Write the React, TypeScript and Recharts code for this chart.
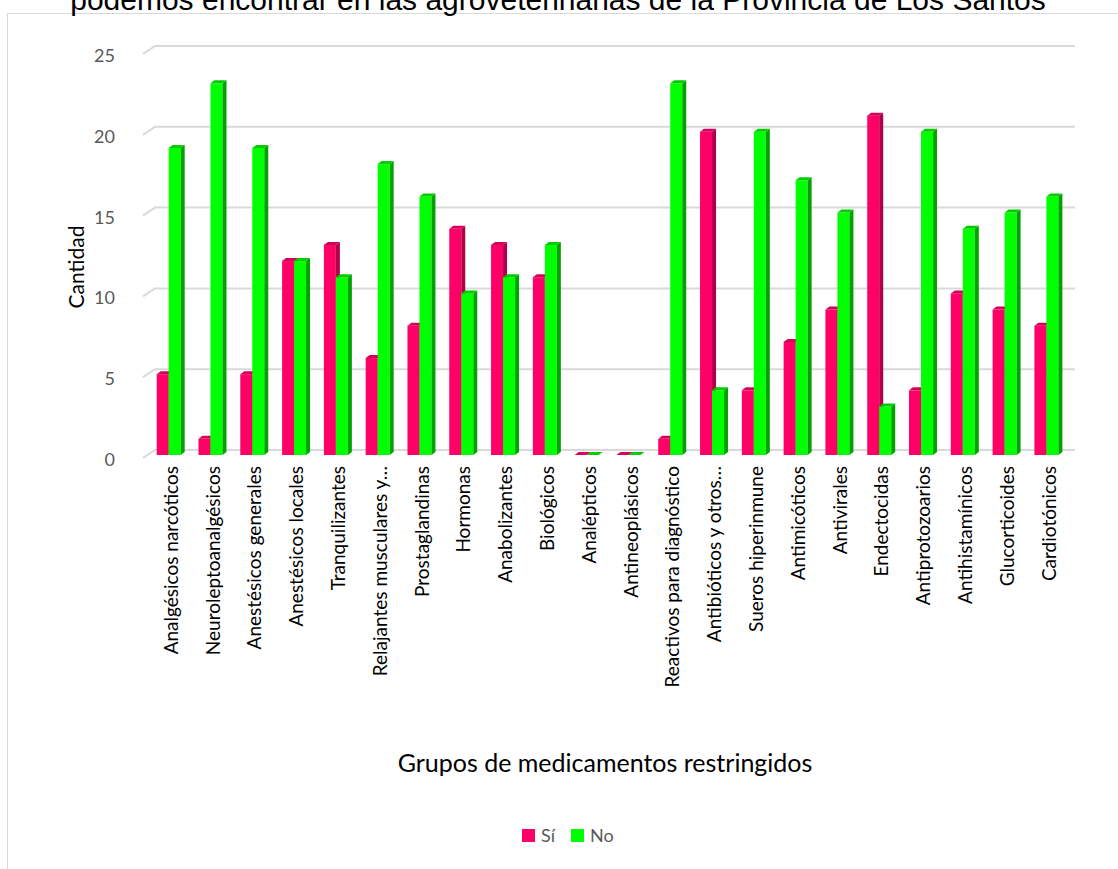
import React from "react";
import {
    BarChart,
    Bar,
    XAxis,
    YAxis,
    CartesianGrid,
    Legend,
} from "recharts";

const grupos = [
    "Analgésicos narcóticos",
    "Neuroleptoanalgésicos",
    "Anestésicos generales",
    "Anestésicos locales",
    "Tranquilizantes",
    "Relajantes musculares y…",
    "Prostaglandinas",
    "Hormonas",
    "Anabolizantes",
    "Biológicos",
    "Analépticos",
    "Antineoplásicos",
    "Reactivos para diagnóstico",
    "Antibióticos y otros…",
    "Sueros hiperinmune",
    "Antimicóticos",
    "Antivirales",
    "Endectocidas",
    "Antiprotozoarios",
    "Antihistamínicos",
    "Glucorticoides",
    "Cardiotónicos",
];

const si = [5, 1, 5, 12, 13, 6, 8, 14, 13, 11, 0, 0, 1, 20, 4, 7, 9, 21, 4, 10, 9, 8];
const no = [19, 23, 19, 12, 11, 18, 16, 10, 11, 13, 0, 0, 23, 4, 20, 17, 15, 3, 20, 14, 15, 16];

const yTicks = [0, 5, 10, 15, 20, 25];

const data = grupos.map((name, i) => ({ name, Sí: si[i], No: no[i] }));

const FONT = "Lato, 'Open Sans', sans-serif";
const DEPTH_X = 4;
const DEPTH_Y = 3;

// column with a darker side face and a top face, like an Excel 3-D column
const Column3D = (props: any) => {
    const { x, y, width, height, fill, side, top } = props;
    if (x == null || y == null) return null;
    const h = Math.max(0, height);
    const r = x + width;
    return (
        <g>
            <rect x={x} y={y} width={width} height={h} fill={fill} />
            <polygon
                points={`${r},${y} ${r + DEPTH_X},${y - DEPTH_Y} ${r + DEPTH_X},${y + h - DEPTH_Y} ${r},${y + h}`}
                fill={side}
            />
            <polygon
                points={`${x},${y} ${x + DEPTH_X},${y - DEPTH_Y} ${r + DEPTH_X},${y - DEPTH_Y} ${r},${y}`}
                fill={top}
            />
        </g>
    );
};

// gridline on the back wall with the floor edge going to the front
const GridLine3D = (props: any) => {
    const { x1, y1, x2 } = props;
    return (
        <path
            key={props.key ?? `g-${y1}`}
            d={`M${x1 - 4.5},${y1 + 3} L${x1 + 7.5},${y1 - 5} L${x2 + 8},${y1 - 5}`}
            stroke="#D9D9D9"
            strokeWidth={2}
            fill="none"
        />
    );
};

const CategoryTick = (props: any) => {
    const { x, y, payload } = props;
    return (
        <text
            x={x + 2}
            y={y + 3}
            transform={`rotate(-90, ${x + 2}, ${y + 3})`}
            textAnchor="end"
            dominantBaseline="central"
            fontFamily={FONT}
            fontSize={19}
            fill="#000000"
        >
            {payload.value}
        </text>
    );
};

const ValueTick = (props: any) => {
    const { y, payload } = props;
    return (
        <text
            x={115}
            y={y + 4}
            textAnchor="end"
            dominantBaseline="central"
            fontFamily={FONT}
            fontSize={18}
            fill="#595959"
        >
            {payload.value}
        </text>
    );
};

const LegendBox = () => (
    <div style={{ display: "flex", alignItems: "center", fontFamily: FONT, fontSize: 18, color: "#595959" }}>
        <span style={{ width: 13, height: 13, background: "#FF0066", display: "inline-block" }} />
        <span style={{ marginLeft: 6, marginRight: 16 }}>Sí</span>
        <span style={{ width: 13, height: 13, background: "#00FF00", display: "inline-block" }} />
        <span style={{ marginLeft: 6 }}>No</span>
    </div>
);

export default function App() {
    return (
        <div
            style={{
                position: "absolute",
                left: 0,
                top: 0,
                width: 1118,
                height: 869,
                overflow: "hidden",
                background: "#FFFFFF",
            }}
        >
            <div
                style={{
                    position: "absolute",
                    left: 7,
                    top: 13,
                    width: 1200,
                    height: 900,
                    border: "1px solid #D9D9D9",
                }}
            />
            <svg
                width={1118}
                height={30}
                style={{ position: "absolute", left: 0, top: 0 }}
            >
                <text
                    x={558}
                    y={10}
                    textAnchor="middle"
                    fontFamily="'Liberation Sans', Arial, sans-serif"
                    fontSize={30}
                    fill="#000000"
                >
                    podemos encontrar en las agroveterinarias de la Provincia de Los Santos
                </text>
            </svg>
            <div style={{ position: "absolute", left: 0, top: 0 }}>
                <BarChart
                    width={1118}
                    height={869}
                    data={data}
                    barCategoryGap="22%"
                    barGap={0}
                    margin={{ top: 51, right: 51, left: 0, bottom: 0 }}
                >
                    <CartesianGrid vertical={false} horizontal={GridLine3D} />
                    <XAxis
                        dataKey="name"
                        interval={0}
                        axisLine={false}
                        tickLine={false}
                        height={414}
                        tick={CategoryTick}
                        label={{
                            content: () => (
                                <text
                                    x={605}
                                    y={762}
                                    textAnchor="middle"
                                    dominantBaseline="central"
                                    fontFamily={FONT}
                                    fontSize={25}
                                    fill="#000000"
                                >
                                    Grupos de medicamentos restringidos
                                </text>
                            ),
                        }}
                    />
                    <YAxis
                        domain={[0, 25]}
                        ticks={yTicks}
                        axisLine={false}
                        tickLine={false}
                        width={147.5}
                        tick={ValueTick}
                        label={{
                            content: () => (
                                <text
                                    x={75}
                                    y={267}
                                    transform="rotate(-90, 75, 267)"
                                    textAnchor="middle"
                                    dominantBaseline="central"
                                    fontFamily={FONT}
                                    fontSize={21}
                                    fill="#000000"
                                >
                                    Cantidad
                                </text>
                            ),
                        }}
                    />
                    <Legend
                        layout="horizontal"
                        verticalAlign="middle"
                        align="center"
                        wrapperStyle={{ top: 824, left: 522, width: 140 }}
                        content={LegendBox}
                    />
                    <Bar
                        dataKey="Sí"
                        fill="#FF0066"
                        isAnimationActive={false}
                        shape={(p: any) => <Column3D {...p} fill="#FF0066" side="#B0004A" top="#D6005A" />}
                    />
                    <Bar
                        dataKey="No"
                        fill="#00FF00"
                        isAnimationActive={false}
                        shape={(p: any) => <Column3D {...p} fill="#00FF00" side="#00A300" top="#00CC00" />}
                    />
                </BarChart>
            </div>
        </div>
    );
}
